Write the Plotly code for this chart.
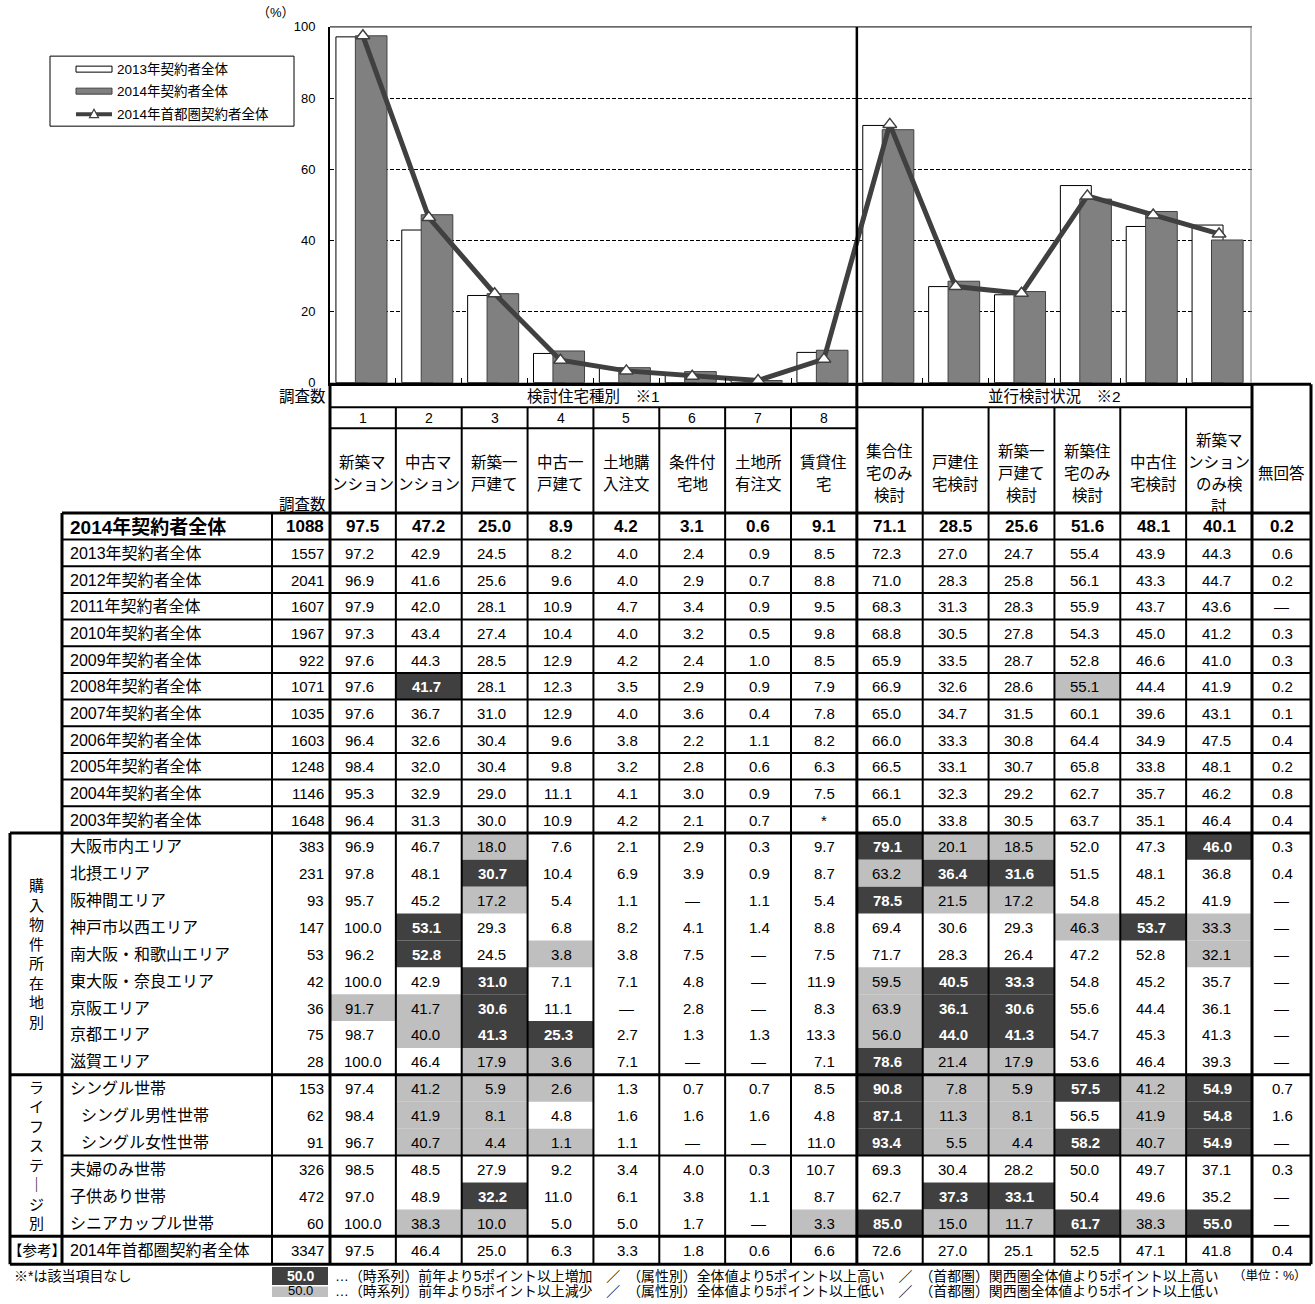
import plotly.graph_objects as go

W, H = 1315, 1304
FONT = "Liberation Sans, Noto Sans CJK JP, sans-serif"

# ---------------- data ----------------
type_numbers = ["1", "2", "3", "4", "5", "6", "7", "8"]
type_heads = [["新築マ", "ンション"], ["中古マ", "ンション"], ["新築一", "戸建て"], ["中古一", "戸建て"],
              ["土地購", "入注文"], ["条件付", "宅地"], ["土地所", "有注文"], ["賃貸住", "宅"]]
parallel_heads = [["集合住", "宅のみ", "検討"], ["戸建住", "宅検討"], ["新築一", "戸建て", "検討"],
                  ["新築住", "宅のみ", "検討"], ["中古住", "宅検討"], ["新築マ", "ンション", "のみ検", "討"]]
no_answer_head = "無回答"
group_type_title = "検討住宅種別　※1"
group_parallel_title = "並行検討状況　※2"

year_labels = ["2014年契約者全体", "2013年契約者全体", "2012年契約者全体", "2011年契約者全体",
               "2010年契約者全体", "2009年契約者全体", "2008年契約者全体", "2007年契約者全体",
               "2006年契約者全体", "2005年契約者全体", "2004年契約者全体", "2003年契約者全体"]
year_n = [1088, 1557, 2041, 1607, 1967, 922, 1071, 1035, 1603, 1248, 1146, 1648]
year_vals = [
    ["97.5", "47.2", "25.0", "8.9", "4.2", "3.1", "0.6", "9.1", "71.1", "28.5", "25.6", "51.6", "48.1", "40.1", "0.2"],
    ["97.2", "42.9", "24.5", "8.2", "4.0", "2.4", "0.9", "8.5", "72.3", "27.0", "24.7", "55.4", "43.9", "44.3", "0.6"],
    ["96.9", "41.6", "25.6", "9.6", "4.0", "2.9", "0.7", "8.8", "71.0", "28.3", "25.8", "56.1", "43.3", "44.7", "0.2"],
    ["97.9", "42.0", "28.1", "10.9", "4.7", "3.4", "0.9", "9.5", "68.3", "31.3", "28.3", "55.9", "43.7", "43.6", "—"],
    ["97.3", "43.4", "27.4", "10.4", "4.0", "3.2", "0.5", "9.8", "68.8", "30.5", "27.8", "54.3", "45.0", "41.2", "0.3"],
    ["97.6", "44.3", "28.5", "12.9", "4.2", "2.4", "1.0", "8.5", "65.9", "33.5", "28.7", "52.8", "46.6", "41.0", "0.3"],
    ["97.6", "41.7", "28.1", "12.3", "3.5", "2.9", "0.9", "7.9", "66.9", "32.6", "28.6", "55.1", "44.4", "41.9", "0.2"],
    ["97.6", "36.7", "31.0", "12.9", "4.0", "3.6", "0.4", "7.8", "65.0", "34.7", "31.5", "60.1", "39.6", "43.1", "0.1"],
    ["96.4", "32.6", "30.4", "9.6", "3.8", "2.2", "1.1", "8.2", "66.0", "33.3", "30.8", "64.4", "34.9", "47.5", "0.4"],
    ["98.4", "32.0", "30.4", "9.8", "3.2", "2.8", "0.6", "6.3", "66.5", "33.1", "30.7", "65.8", "33.8", "48.1", "0.2"],
    ["95.3", "32.9", "29.0", "11.1", "4.1", "3.0", "0.9", "7.5", "66.1", "32.3", "29.2", "62.7", "35.7", "46.2", "0.8"],
    ["96.4", "31.3", "30.0", "10.9", "4.2", "2.1", "0.7", "*", "65.0", "33.8", "30.5", "63.7", "35.1", "46.4", "0.4"],
]

area_title = "購入物件所在地別"
area_labels = ["大阪市内エリア", "北摂エリア", "阪神間エリア", "神戸市以西エリア", "南大阪・和歌山エリア",
               "東大阪・奈良エリア", "京阪エリア", "京都エリア", "滋賀エリア"]
area_n = [383, 231, 93, 147, 53, 42, 36, 75, 28]
area_vals = [
    ["96.9", "46.7", "18.0", "7.6", "2.1", "2.9", "0.3", "9.7", "79.1", "20.1", "18.5", "52.0", "47.3", "46.0", "0.3"],
    ["97.8", "48.1", "30.7", "10.4", "6.9", "3.9", "0.9", "8.7", "63.2", "36.4", "31.6", "51.5", "48.1", "36.8", "0.4"],
    ["95.7", "45.2", "17.2", "5.4", "1.1", "—", "1.1", "5.4", "78.5", "21.5", "17.2", "54.8", "45.2", "41.9", "—"],
    ["100.0", "53.1", "29.3", "6.8", "8.2", "4.1", "1.4", "8.8", "69.4", "30.6", "29.3", "46.3", "53.7", "33.3", "—"],
    ["96.2", "52.8", "24.5", "3.8", "3.8", "7.5", "—", "7.5", "71.7", "28.3", "26.4", "47.2", "52.8", "32.1", "—"],
    ["100.0", "42.9", "31.0", "7.1", "7.1", "4.8", "—", "11.9", "59.5", "40.5", "33.3", "54.8", "45.2", "35.7", "—"],
    ["91.7", "41.7", "30.6", "11.1", "—", "2.8", "—", "8.3", "63.9", "36.1", "30.6", "55.6", "44.4", "36.1", "—"],
    ["98.7", "40.0", "41.3", "25.3", "2.7", "1.3", "1.3", "13.3", "56.0", "44.0", "41.3", "54.7", "45.3", "41.3", "—"],
    ["100.0", "46.4", "17.9", "3.6", "7.1", "—", "—", "7.1", "78.6", "21.4", "17.9", "53.6", "46.4", "39.3", "—"],
]

life_title = "ライフステ｜ジ別"
life_labels = ["シングル世帯", "　シングル男性世帯", "　シングル女性世帯", "夫婦のみ世帯", "子供あり世帯", "シニアカップル世帯"]
life_n = [153, 62, 91, 326, 472, 60]
life_vals = [
    ["97.4", "41.2", "5.9", "2.6", "1.3", "0.7", "0.7", "8.5", "90.8", "7.8", "5.9", "57.5", "41.2", "54.9", "0.7"],
    ["98.4", "41.9", "8.1", "4.8", "1.6", "1.6", "1.6", "4.8", "87.1", "11.3", "8.1", "56.5", "41.9", "54.8", "1.6"],
    ["96.7", "40.7", "4.4", "1.1", "1.1", "—", "—", "11.0", "93.4", "5.5", "4.4", "58.2", "40.7", "54.9", "—"],
    ["98.5", "48.5", "27.9", "9.2", "3.4", "4.0", "0.3", "10.7", "69.3", "30.4", "28.2", "50.0", "49.7", "37.1", "0.3"],
    ["97.0", "48.9", "32.2", "11.0", "6.1", "3.8", "1.1", "8.7", "62.7", "37.3", "33.1", "50.4", "49.6", "35.2", "—"],
    ["100.0", "38.3", "10.0", "5.0", "5.0", "1.7", "—", "3.3", "85.0", "15.0", "11.7", "61.7", "38.3", "55.0", "—"],
]

ref_title = "【参考】"
ref_labels = ["2014年首都圏契約者全体"]
ref_n = [3347]
ref_vals = [
    ["97.5", "46.4", "25.0", "6.3", "3.3", "1.8", "0.6", "6.6", "72.6", "27.0", "25.1", "52.5", "47.1", "41.8", "0.4"],
]

# columns (1-based, 15 = 無回答) at least 5 points above / below the comparison value
higher = {
    "2008年契約者全体": [2],
    "大阪市内エリア": [9, 14], "北摂エリア": [3, 10, 11], "阪神間エリア": [9],
    "神戸市以西エリア": [2, 13], "南大阪・和歌山エリア": [2], "東大阪・奈良エリア": [3, 10, 11],
    "京阪エリア": [3, 10, 11], "京都エリア": [3, 4, 10, 11], "滋賀エリア": [9],
    "シングル世帯": [9, 12, 14], "　シングル男性世帯": [9, 14], "　シングル女性世帯": [9, 12, 14],
    "子供あり世帯": [3, 10, 11], "シニアカップル世帯": [9, 12, 14],
}
lower = {
    "2008年契約者全体": [12],
    "大阪市内エリア": [3, 10, 11], "北摂エリア": [9], "阪神間エリア": [3, 10, 11],
    "神戸市以西エリア": [12, 14], "南大阪・和歌山エリア": [4, 14], "東大阪・奈良エリア": [9],
    "京阪エリア": [1, 2, 9], "京都エリア": [2, 9], "滋賀エリア": [3, 4, 10, 11],
    "シングル世帯": [2, 3, 4, 10, 11, 13], "　シングル男性世帯": [2, 3, 10, 11, 13],
    "　シングル女性世帯": [2, 3, 4, 10, 11, 13], "シニアカップル世帯": [2, 3, 8, 10, 11, 13],
}

legend_names = ["2013年契約者全体", "2014年契約者全体", "2014年首都圏契約者全体"]
y_ticks = [0, 20, 40, 60, 80, 100]
note_missing = "※*は該当項目なし"
note_high = "…（時系列）前年より5ポイント以上増加　／　（属性別）全体値より5ポイント以上高い　／　（首都圏）関西圏全体値より5ポイント以上高い"
note_low = "…（時系列）前年より5ポイント以上減少　／　（属性別）全体値より5ポイント以上低い　／　（首都圏）関西圏全体値より5ポイント以上低い"
note_unit = "（単位：%）"
note_sample = "50.0"

# ---------------- chart series ----------------
categories = ["".join(h) for h in type_heads + parallel_heads]
bars_2013 = [float(v) for v in year_vals[1][:14]]
bars_2014 = [float(v) for v in year_vals[0][:14]]
line_capital = [float(v) for v in ref_vals[0][:14]]

DARK = "#404040"
GRAY = "#808080"
LIGHT = "#BFBFBF"

fig = go.Figure()
fig.add_trace(go.Bar(x=categories, y=bars_2013, offset=-0.41, width=0.47,
                     marker=dict(color="white", line=dict(color="black", width=1)),
                     name=legend_names[0], showlegend=False))
fig.add_trace(go.Bar(x=categories, y=bars_2014, offset=-0.115, width=0.48,
                     marker=dict(color=GRAY, line=dict(color=DARK, width=1)),
                     name=legend_names[1], showlegend=False))
fig.add_trace(go.Scatter(x=categories, y=line_capital, mode="lines+markers",
                         line=dict(color=DARK, width=5),
                         marker=dict(symbol="triangle-up", size=12, color="white",
                                     line=dict(color=DARK, width=1.5)),
                         name=legend_names[2], showlegend=False))

# ---------------- helpers (layout pixel -> paper) ----------------
shapes, anns = [], []
V_SCALE = 1320 / 1304   # vertical layout units per pixel
V_INSET = 8             # top inset of the layout grid


def X(p):
    return p / W


def Y(p):
    return 1 - (p * V_SCALE - V_INSET) / H


def hline(y, x0, x1, w=2, color="black"):
    shapes.append(dict(type="line", xref="paper", yref="paper", x0=X(x0), x1=X(x1), y0=Y(y), y1=Y(y),
                       line=dict(color=color, width=w)))


def vline(x, y0, y1, w=2, color="black"):
    shapes.append(dict(type="line", xref="paper", yref="paper", x0=X(x), x1=X(x), y0=Y(y0), y1=Y(y1),
                       line=dict(color=color, width=w)))


def rect(x0, y0, x1, y1, fill, line_color=None, lw=0, layer="below"):
    shapes.append(dict(type="rect", xref="paper", yref="paper", x0=X(x0), x1=X(x1), y0=Y(y1), y1=Y(y0),
                       fillcolor=fill, layer=layer,
                       line=dict(color=line_color or fill, width=lw)))


def txt(x, y, s, size=15, anchor="center", color="black", bold=False, family=FONT):
    anns.append(dict(x=X(x), y=Y(y), xref="paper", yref="paper", text=f"<b>{s}</b>" if bold else s,
                     showarrow=False, xanchor=anchor, yanchor="middle",
                     font=dict(size=size, color=color, family=family)))


# ---------------- table geometry ----------------
C_GROUP0, C_LABEL0, C_N0, C_DATA0 = 10, 62, 272, 330
C_NA0, C_NA1 = 1252, 1311
COL_W = (C_NA0 - C_DATA0) / 14
T_TOP, T_R1, T_R2, T_HDR = 385, 408, 429, 513.5
sec_edges = [513.5, 833.3, 1075, 1236.5, 1264.3]
T_BOT = sec_edges[-1]


def col_left(k):
    return C_DATA0 + k * COL_W if k < 14 else C_NA0


def col_right(k):
    return C_DATA0 + (k + 1) * COL_W if k < 14 else C_NA1


sections = [
    (year_labels, year_n, year_vals, None),
    (area_labels, area_n, area_vals, area_title),
    (life_labels, life_n, life_vals, life_title),
    (ref_labels, ref_n, ref_vals, ref_title),
]

row_lines = []
for si, (labels, ns, vals, title) in enumerate(sections):
    y0s, y1s = sec_edges[si], sec_edges[si + 1]
    rh = (y1s - y0s) / len(labels)
    for ri, (lab, n, row) in enumerate(zip(labels, ns, vals)):
        top = y0s + ri * rh
        cy = top + rh / 2 + 0.5
        is_total = (si == 0 and ri == 0)
        # row label and sample size
        if lab.startswith("　"):
            txt(79, cy, lab.strip("　"), size=16, anchor="left")
        else:
            txt(68, cy, lab, size=19 if is_total else 16, anchor="left", bold=is_total)
        txt(326, cy, f"{n}", size=17 if is_total else 15, anchor="right", bold=is_total)
        for k, v in enumerate(row):
            col = k + 1
            x0, x1 = col_left(k), col_right(k)
            cx = (x0 + x1) / 2
            hi = col in higher.get(lab, [])
            lo = col in lower.get(lab, [])
            if hi:
                rect(x0, top, x1, top + rh, DARK)
            elif lo:
                rect(x0, top, x1, top + rh, LIGHT)
            if is_total:
                txt(cx, cy, v, size=17, bold=True)
            elif v in ("—", "*") or len(v) >= 5:
                txt(cx, cy, v, size=15)
            elif hi:
                txt(cx + 14.5, cy, v, size=15, anchor="right", bold=True, color="white")
            else:
                txt(cx + 13.5, cy, v, size=15, anchor="right")
        if si == 0 and ri > 0:
            row_lines.append(top)
    if title is not None:
        if title == ref_title:
            txt(37, (y0s + y1s) / 2 + 0.5, title, size=14.5)
        else:
            chars = list(title)
            step = 19.5
            mid = (y0s + y1s) / 2
            start = mid - step * (len(chars) - 1) / 2
            for i, ch in enumerate(chars):
                txt(36, start + i * step, ch, size=15)

# life stage sub-divider (single households / others)
life_rh = (sec_edges[3] - sec_edges[2]) / len(life_labels)
row_lines.append(sec_edges[2] + 3 * life_rh)

# ---------------- table lines ----------------
for y in row_lines:
    hline(y, C_LABEL0, C_NA1, 2)
hline(T_TOP, C_DATA0, C_NA1, 3)
hline(T_R1, C_DATA0, C_NA0, 2)
hline(T_R2, C_DATA0, C_DATA0 + 8 * COL_W, 2)
hline(T_HDR, C_LABEL0, C_NA1, 3)
for y in sec_edges[1:]:
    hline(y, C_GROUP0, C_NA1, 3)
vline(C_GROUP0, sec_edges[1], T_BOT, 3)
vline(C_LABEL0, T_HDR, T_BOT, 3)
vline(C_N0, T_HDR, T_BOT, 2)
vline(C_DATA0, T_TOP, T_BOT, 3)
for k in range(1, 14):
    if k == 8:
        continue
    vline(col_left(k), T_R1, T_BOT, 2)
vline(col_left(8), T_TOP, T_BOT, 3)
vline(C_NA0, T_TOP, T_BOT, 3)
vline(C_NA1, T_TOP, T_BOT, 3)

# ---------------- table header ----------------
txt(C_DATA0 + 4 * COL_W, 397, group_type_title, size=15.5)
txt(C_DATA0 + 11 * COL_W, 397, group_parallel_title, size=15.5)
for k, num in enumerate(type_numbers):
    txt(C_DATA0 + (k + 0.5) * COL_W, 418.5, num, size=14)
HEAD_MID, HEAD_STEP = 474, 22
for k, lines in enumerate(type_heads + parallel_heads):
    cx = C_DATA0 + (k + 0.5) * COL_W
    start = HEAD_MID - HEAD_STEP * (len(lines) - 1) / 2
    for i, ln in enumerate(lines):
        txt(cx, start + i * HEAD_STEP, ln, size=15.5)
txt((C_NA0 + C_NA1) / 2, HEAD_MID, no_answer_head, size=15.5)
txt(328, 397, "調査数", size=15.5, anchor="right")
txt(328, 505, "調査数", size=15.5, anchor="right")

# ---------------- chart frame ----------------
CH_TOP, CH_BOT = 27.8, 383.3
hline(CH_TOP, C_DATA0, C_NA0, 1)
vline(C_NA0 - 1, CH_TOP, CH_BOT, 1, color="#808080")
vline(col_left(8), CH_TOP, CH_BOT, 2.5)
txt(276, 13, "（%）", size=13)

# ---------------- legend ----------------
rect(50, 57, 294, 127, "white", "black", 1, layer="above")
rect(76, 67, 112, 73, "white", "black", 1, layer="above")
txt(115, 70, legend_names[0], size=13.5, anchor="left")
rect(76, 89, 112, 95, GRAY, DARK, 1, layer="above")
txt(115, 92, legend_names[1], size=13.5, anchor="left")
hline(115, 76, 112, 4, DARK)
shapes.append(dict(type="path", xref="paper", yref="paper",
                   path=f"M {X(94)},{Y(110)} L {X(98.5)},{Y(118.5)} L {X(89.5)},{Y(118.5)} Z",
                   fillcolor="white", line=dict(color=DARK, width=1.2)))
txt(115, 115, legend_names[2], size=13.5, anchor="left")

# ---------------- footer ----------------
txt(12, 1276, note_missing, size=14, anchor="left")
rect(272, 1267, 328, 1285, DARK)
txt(300, 1276, note_sample, size=14, bold=True, color="white")
rect(272, 1286.5, 328, 1297, LIGHT)
txt(300, 1291, note_sample, size=13)
txt(333, 1276, note_high, size=13.9, anchor="left")
txt(1309, 1276, note_unit, size=12.5, anchor="right")
txt(333, 1291, note_low, size=13.9, anchor="left")

fig.update_layout(
    width=W, height=H,
    autosize=False,
    margin=dict(l=0, r=0, t=0, b=0),
    paper_bgcolor="white", plot_bgcolor="white",
    barmode="overlay",
    showlegend=False,
    shapes=shapes,
    annotations=anns,
    font=dict(family=FONT, color="black"),
    xaxis=dict(domain=[X(C_DATA0), X(C_NA0)], type="category", range=[-0.5, 13.5],
               showticklabels=False, ticks="inside", ticklen=5, tickwidth=1, tickcolor="black",
               tickson="boundaries", showline=True, linecolor="black", linewidth=2.5,
               showgrid=False, zeroline=False, fixedrange=True),
    yaxis=dict(domain=[Y(CH_BOT), Y(CH_TOP)], range=[0, 100], tickvals=y_ticks,
               showgrid=True, gridcolor="black", gridwidth=1, griddash="4px,2px",
               showline=True, linecolor="black", linewidth=2, ticks="", zeroline=False,
               ticklabelstandoff=10, tickfont=dict(size=13, family=FONT), fixedrange=True),
)

fig.write_html("out.html", config={"displayModeBar": False})
